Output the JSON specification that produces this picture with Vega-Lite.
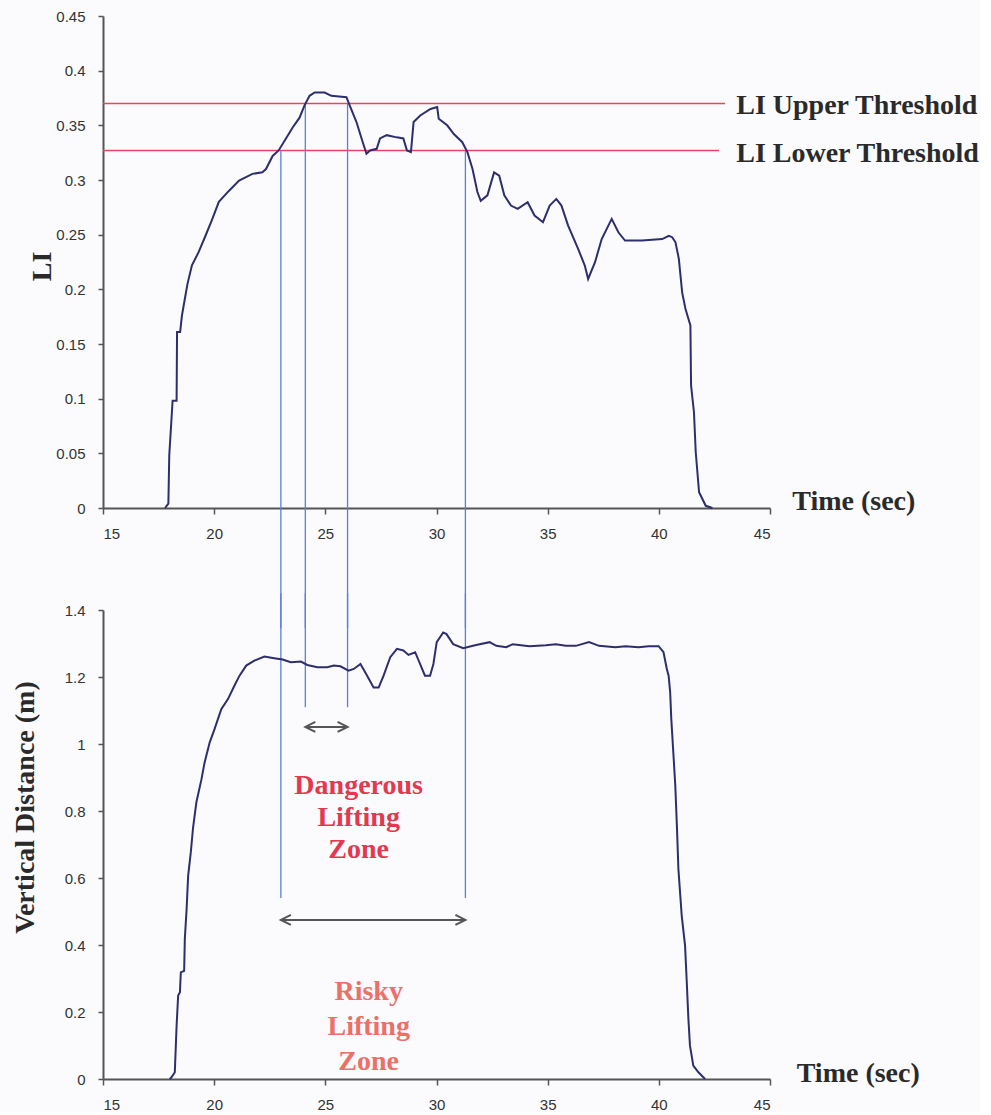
{
  "$schema": "https://vega.github.io/schema/vega-lite/v6.json",
  "background": "#fbfbfd",
  "padding": {"left": 11, "top": 9, "right": 0, "bottom": 0},
  "bounds": "flush",
  "spacing": 102,
  "config": {
    "view": {"stroke": null},
    "axis": {
      "grid": false,
      "domainColor": "#555555",
      "domainWidth": 2,
      "tickColor": "#555555",
      "tickWidth": 1.5,
      "tickSize": 6,
      "labelFont": "Liberation Sans",
      "labelFontSize": 15,
      "labelColor": "#333333",
      "labelPadding": 12,
      "titleFont": "Liberation Serif",
      "titleFontSize": 28,
      "titleFontWeight": "bold",
      "titleColor": "#2a2a2a"
    }
  },
  "datasets": {
    "li": [
      {"t": 17.79, "v": 0}, {"t": 17.94, "v": 0.004}, {"t": 17.98, "v": 0.048}, {"t": 18.07, "v": 0.078},
      {"t": 18.13, "v": 0.098}, {"t": 18.31, "v": 0.098}, {"t": 18.33, "v": 0.161}, {"t": 18.47, "v": 0.161},
      {"t": 18.55, "v": 0.176}, {"t": 18.67, "v": 0.19}, {"t": 18.8, "v": 0.205}, {"t": 19.0, "v": 0.222},
      {"t": 19.3, "v": 0.234}, {"t": 19.61, "v": 0.249}, {"t": 19.91, "v": 0.264}, {"t": 20.21, "v": 0.28},
      {"t": 20.66, "v": 0.29}, {"t": 21.12, "v": 0.2995}, {"t": 21.72, "v": 0.3056}, {"t": 22.17, "v": 0.307},
      {"t": 22.33, "v": 0.31}, {"t": 22.63, "v": 0.322}, {"t": 22.9, "v": 0.327}, {"t": 23.23, "v": 0.338},
      {"t": 23.53, "v": 0.348}, {"t": 23.84, "v": 0.357}, {"t": 24.06, "v": 0.368}, {"t": 24.29, "v": 0.377},
      {"t": 24.52, "v": 0.38}, {"t": 24.97, "v": 0.38}, {"t": 25.27, "v": 0.377}, {"t": 25.5, "v": 0.3766},
      {"t": 25.95, "v": 0.3757}, {"t": 26.1, "v": 0.368}, {"t": 26.4, "v": 0.353}, {"t": 26.63, "v": 0.338},
      {"t": 26.85, "v": 0.324}, {"t": 27.01, "v": 0.327}, {"t": 27.31, "v": 0.3285}, {"t": 27.46, "v": 0.338},
      {"t": 27.76, "v": 0.341}, {"t": 28.21, "v": 0.339}, {"t": 28.51, "v": 0.338}, {"t": 28.67, "v": 0.327},
      {"t": 28.85, "v": 0.3255}, {"t": 28.97, "v": 0.353}, {"t": 29.27, "v": 0.359}, {"t": 29.73, "v": 0.365},
      {"t": 30.03, "v": 0.3667}, {"t": 30.1, "v": 0.356}, {"t": 30.48, "v": 0.35}, {"t": 30.78, "v": 0.342},
      {"t": 31.16, "v": 0.3346}, {"t": 31.39, "v": 0.3255}, {"t": 31.62, "v": 0.31}, {"t": 31.84, "v": 0.289},
      {"t": 31.99, "v": 0.281}, {"t": 32.29, "v": 0.286}, {"t": 32.59, "v": 0.307}, {"t": 32.82, "v": 0.304},
      {"t": 33.05, "v": 0.286}, {"t": 33.35, "v": 0.2766}, {"t": 33.65, "v": 0.2736}, {"t": 34.1, "v": 0.2797},
      {"t": 34.41, "v": 0.2675}, {"t": 34.79, "v": 0.2614}, {"t": 35.09, "v": 0.2766}, {"t": 35.39, "v": 0.2827},
      {"t": 35.62, "v": 0.2766}, {"t": 35.92, "v": 0.2583}, {"t": 36.37, "v": 0.237}, {"t": 36.67, "v": 0.2217},
      {"t": 36.82, "v": 0.2095}, {"t": 37.13, "v": 0.2248}, {"t": 37.43, "v": 0.246}, {"t": 37.88, "v": 0.2644},
      {"t": 38.18, "v": 0.2522}, {"t": 38.48, "v": 0.2446}, {"t": 39.24, "v": 0.2446}, {"t": 40.15, "v": 0.246},
      {"t": 40.45, "v": 0.249}, {"t": 40.6, "v": 0.2477}, {"t": 40.75, "v": 0.243}, {"t": 40.9, "v": 0.2278},
      {"t": 41.05, "v": 0.197}, {"t": 41.2, "v": 0.182}, {"t": 41.42, "v": 0.167}, {"t": 41.45, "v": 0.112},
      {"t": 41.58, "v": 0.0876}, {"t": 41.66, "v": 0.051}, {"t": 41.81, "v": 0.0144}, {"t": 42.11, "v": 0.002},
      {"t": 42.41, "v": 0}
    ],
    "dist": [
      {"t": 18.0, "v": 0}, {"t": 18.08, "v": 0.005}, {"t": 18.23, "v": 0.02}, {"t": 18.31, "v": 0.159},
      {"t": 18.38, "v": 0.249}, {"t": 18.46, "v": 0.259}, {"t": 18.5, "v": 0.318}, {"t": 18.65, "v": 0.323},
      {"t": 18.68, "v": 0.418}, {"t": 18.76, "v": 0.507}, {"t": 18.83, "v": 0.607}, {"t": 18.95, "v": 0.677},
      {"t": 19.05, "v": 0.75}, {"t": 19.2, "v": 0.826}, {"t": 19.43, "v": 0.895}, {"t": 19.57, "v": 0.945},
      {"t": 19.8, "v": 1.005}, {"t": 20.02, "v": 1.045}, {"t": 20.32, "v": 1.104}, {"t": 20.62, "v": 1.134},
      {"t": 20.91, "v": 1.174}, {"t": 21.14, "v": 1.204}, {"t": 21.44, "v": 1.234}, {"t": 21.81, "v": 1.249},
      {"t": 22.26, "v": 1.261}, {"t": 22.7, "v": 1.256}, {"t": 23.08, "v": 1.252}, {"t": 23.45, "v": 1.244},
      {"t": 23.9, "v": 1.246}, {"t": 24.19, "v": 1.236}, {"t": 24.64, "v": 1.229}, {"t": 25.09, "v": 1.229},
      {"t": 25.38, "v": 1.234}, {"t": 25.68, "v": 1.232}, {"t": 26.04, "v": 1.219}, {"t": 26.28, "v": 1.224},
      {"t": 26.58, "v": 1.239}, {"t": 26.88, "v": 1.204}, {"t": 27.17, "v": 1.169}, {"t": 27.4, "v": 1.169},
      {"t": 27.62, "v": 1.204}, {"t": 27.92, "v": 1.259}, {"t": 28.22, "v": 1.284}, {"t": 28.51, "v": 1.279},
      {"t": 28.74, "v": 1.266}, {"t": 29.04, "v": 1.274}, {"t": 29.26, "v": 1.239}, {"t": 29.48, "v": 1.204},
      {"t": 29.71, "v": 1.204}, {"t": 29.86, "v": 1.239}, {"t": 30.01, "v": 1.304}, {"t": 30.3, "v": 1.333},
      {"t": 30.45, "v": 1.328}, {"t": 30.75, "v": 1.298}, {"t": 31.2, "v": 1.286}, {"t": 31.64, "v": 1.293},
      {"t": 31.94, "v": 1.298}, {"t": 32.39, "v": 1.304}, {"t": 32.69, "v": 1.293}, {"t": 33.14, "v": 1.289},
      {"t": 33.43, "v": 1.298}, {"t": 34.18, "v": 1.292}, {"t": 34.92, "v": 1.295}, {"t": 35.37, "v": 1.298},
      {"t": 35.82, "v": 1.293}, {"t": 36.27, "v": 1.293}, {"t": 36.86, "v": 1.304}, {"t": 37.31, "v": 1.293},
      {"t": 38.05, "v": 1.289}, {"t": 38.5, "v": 1.292}, {"t": 39.09, "v": 1.289}, {"t": 39.54, "v": 1.292},
      {"t": 39.99, "v": 1.292}, {"t": 40.21, "v": 1.274}, {"t": 40.36, "v": 1.224}, {"t": 40.44, "v": 1.204},
      {"t": 40.51, "v": 1.154}, {"t": 40.56, "v": 1.075}, {"t": 40.66, "v": 0.965}, {"t": 40.74, "v": 0.876},
      {"t": 40.81, "v": 0.76}, {"t": 40.88, "v": 0.627}, {"t": 41.03, "v": 0.487}, {"t": 41.18, "v": 0.398},
      {"t": 41.25, "v": 0.2985}, {"t": 41.33, "v": 0.179}, {"t": 41.4, "v": 0.0995}, {"t": 41.55, "v": 0.04},
      {"t": 41.78, "v": 0.02}, {"t": 42.08, "v": 0}
    ],
    "thresholds": [
      {"name": "LI Upper Threshold", "t": 15, "t2": 42.98, "v": 0.37, "tl": 43.48, "vl": 0.368},
      {"name": "LI Lower Threshold", "t": 15, "t2": 42.71, "v": 0.327, "tl": 43.48, "vl": 0.324}
    ],
    "zonesTop": [
      {"t": 23.0, "v": 0.327, "v2": -0.11},
      {"t": 24.1, "v": 0.37, "v2": -0.11},
      {"t": 26.0, "v": 0.37, "v2": -0.11},
      {"t": 31.3, "v": 0.327, "v2": -0.11}
    ],
    "zonesBottom": [
      {"t": 23.0, "v": 1.45, "v2": 0.54},
      {"t": 24.1, "v": 1.45, "v2": 1.11},
      {"t": 26.0, "v": 1.45, "v2": 1.11},
      {"t": 31.3, "v": 1.45, "v2": 0.54}
    ],
    "arrows": [
      {"zone": "Dangerous", "t": 24.1, "t2": 26.0, "v": 1.051},
      {"zone": "Risky", "t": 23.0, "t2": 31.3, "v": 0.475}
    ]
  },
  "vconcat": [
    {
      "width": 667,
      "height": 492,
      "layer": [
        {
          "data": {"name": "thresholds"},
          "mark": {"type": "rule", "color": "#e8455e", "strokeWidth": 1.5},
          "encoding": {
            "x": {"field": "t", "type": "quantitative", "scale": {"domain": [15, 45], "nice": false, "zero": false},
                  "axis": {"values": [15, 20, 25, 30, 35, 40, 45], "title": null}},
            "x2": {"field": "t2"},
            "y": {"field": "v", "type": "quantitative", "scale": {"domain": [0, 0.45], "nice": false},
                  "axis": {"values": [0, 0.05, 0.1, 0.15, 0.2, 0.25, 0.3, 0.35, 0.4, 0.45], "format": "~g",
                           "title": "LI", "titleX": -53, "titleY": 250, "titleBaseline": "alphabetic", "tickSize": 5, "labelPadding": 13}}
          }
        },
        {
          "data": {"name": "zonesTop"},
          "mark": {"type": "rule", "color": "#5b7fe0", "strokeWidth": 1.3},
          "encoding": {
            "x": {"field": "t", "type": "quantitative"},
            "y": {"field": "v", "type": "quantitative"},
            "y2": {"field": "v2"}
          }
        },
        {
          "data": {"name": "li"},
          "mark": {"type": "line", "color": "#2e2e6e", "strokeWidth": 2},
          "encoding": {
            "x": {"field": "t", "type": "quantitative"},
            "y": {"field": "v", "type": "quantitative"}
          }
        },
        {
          "data": {"name": "thresholds"},
          "mark": {"type": "text", "align": "left", "baseline": "middle", "font": "Liberation Serif", "fontSize": 28, "fontWeight": "bold", "color": "#2a2a2a"},
          "encoding": {
            "x": {"field": "tl", "type": "quantitative"},
            "y": {"field": "vl", "type": "quantitative"},
            "text": {"field": "name"}
          }
        },
        {
          "data": {"values": [{"label": "Time (sec)", "t": 46.0, "v": 0.0055}]},
          "mark": {"type": "text", "align": "left", "baseline": "middle", "font": "Liberation Serif", "fontSize": 28, "fontWeight": "bold", "color": "#2a2a2a"},
          "encoding": {
            "x": {"field": "t", "type": "quantitative"},
            "y": {"field": "v", "type": "quantitative"},
            "text": {"field": "label"}
          }
        }
      ]
    },
    {
      "width": 667,
      "height": 469,
      "layer": [
        {
          "data": {"name": "zonesBottom"},
          "mark": {"type": "rule", "color": "#5b7fe0", "strokeWidth": 1.3},
          "encoding": {
            "x": {"field": "t", "type": "quantitative", "scale": {"domain": [15, 45], "nice": false, "zero": false},
                  "axis": {"values": [15, 20, 25, 30, 35, 40, 45], "title": null}},
            "y": {"field": "v", "type": "quantitative", "scale": {"domain": [0, 1.4], "nice": false},
                  "axis": {"values": [0, 0.2, 0.4, 0.6, 0.8, 1, 1.2, 1.4], "format": "~g",
                           "title": "Vertical Distance (m)", "titleX": -70, "titleY": 197, "titleBaseline": "alphabetic", "tickSize": 5, "labelPadding": 13}},
            "y2": {"field": "v2"}
          }
        },
        {
          "data": {"name": "dist"},
          "mark": {"type": "line", "color": "#2e2e6e", "strokeWidth": 2},
          "encoding": {
            "x": {"field": "t", "type": "quantitative"},
            "y": {"field": "v", "type": "quantitative"}
          }
        },
        {
          "data": {"name": "arrows"},
          "mark": {"type": "rule", "color": "#555555", "strokeWidth": 2},
          "encoding": {
            "x": {"field": "t", "type": "quantitative"},
            "x2": {"field": "t2"},
            "y": {"field": "v", "type": "quantitative"}
          }
        },
        {
          "data": {"name": "arrows"},
          "mark": {"type": "point", "shape": "M2,-1L0,0L2,1", "filled": false, "stroke": "#555555", "strokeWidth": 2, "size": 100, "opacity": 1},
          "encoding": {
            "x": {"field": "t", "type": "quantitative"},
            "y": {"field": "v", "type": "quantitative"}
          }
        },
        {
          "data": {"name": "arrows"},
          "mark": {"type": "point", "shape": "M-2,-1L0,0L-2,1", "filled": false, "stroke": "#555555", "strokeWidth": 2, "size": 100, "opacity": 1},
          "encoding": {
            "x": {"field": "t2", "type": "quantitative"},
            "y": {"field": "v", "type": "quantitative"}
          }
        },
        {
          "data": {"values": [{"label": "Dangerous\nLifting\nZone", "t": 26.5, "v": 0.875}]},
          "mark": {"type": "text", "align": "center", "baseline": "middle", "lineBreak": "\n", "lineHeight": 32, "font": "Liberation Serif", "fontSize": 28, "fontWeight": "bold", "color": "#e3384f"},
          "encoding": {
            "x": {"field": "t", "type": "quantitative"},
            "y": {"field": "v", "type": "quantitative"},
            "text": {"field": "label"}
          }
        },
        {
          "data": {"values": [{"label": "Risky\nLifting\nZone", "t": 26.95, "v": 0.26}]},
          "mark": {"type": "text", "align": "center", "baseline": "middle", "lineBreak": "\n", "lineHeight": 35, "font": "Liberation Serif", "fontSize": 28, "fontWeight": "bold", "color": "#ea7068"},
          "encoding": {
            "x": {"field": "t", "type": "quantitative"},
            "y": {"field": "v", "type": "quantitative"},
            "text": {"field": "label"}
          }
        },
        {
          "data": {"values": [{"label": "Time (sec)", "t": 46.2, "v": 0.015}]},
          "mark": {"type": "text", "align": "left", "baseline": "middle", "font": "Liberation Serif", "fontSize": 28, "fontWeight": "bold", "color": "#2a2a2a"},
          "encoding": {
            "x": {"field": "t", "type": "quantitative"},
            "y": {"field": "v", "type": "quantitative"},
            "text": {"field": "label"}
          }
        }
      ]
    }
  ]
}
